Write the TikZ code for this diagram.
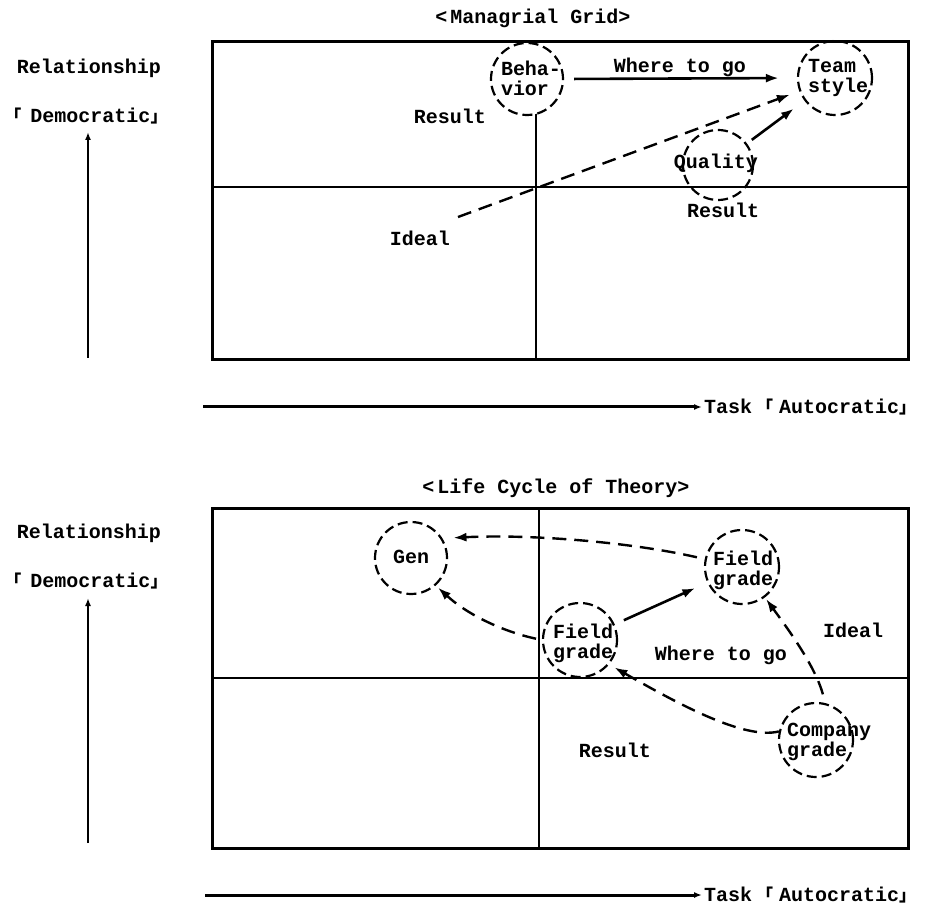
\documentclass[tikz,border=0pt]{standalone}
\usepackage{fontspec}
\setmainfont{Liberation Mono}
\newfontfamily\cjk{Noto Sans CJK SC}
\usetikzlibrary{arrows.meta}

% corner brackets come from the CJK face
\newcommand{\lbr}{{\cjk\fontsize{17}{17}\selectfont 「}}
\newcommand{\rbr}{{\cjk\fontsize{17}{17}\selectfont 」}}

\tikzset{
  lbl/.style={font=\bfseries\fontsize{20}{20}\selectfont, inner sep=0pt, align=left},
  frame/.style={line width=3pt},
  divider/.style={line width=2.6pt},
  dcirc/.style={draw, circle, line width=2.2pt, dash pattern=on 10pt off 5pt, inner sep=0pt, minimum size=72pt},
  arr/.style={line width=2.6pt, -{Latex[length=13pt,width=9pt]}},
  darr/.style={line width=2.4pt, dash pattern=on 14pt off 8pt, -{Latex[length=13pt,width=9pt]}},
  axis/.style={line width=2.4pt, -{Latex[length=8pt,width=6pt]}},
}

\begin{document}
\begin{tikzpicture}[x=1pt, y=-1pt]
\useasboundingbox (0,0) rectangle (935,909);

% ---------------- upper panel: managerial grid ----------------
\node[lbl] (title1) at (533,18) {<\hspace{3pt}Managrial Grid>};

\node[lbl] (rel1) at (89,68) {Relationship};
\node[lbl] (dem1) at (86,116) {\lbr\hspace{9pt}Democratic\rbr};
\coordinate (vb1) at (88,358);
\coordinate (vt1) at (88,132);
\draw[axis] (vb1) -- (vt1);

\draw[frame] (212,42) rectangle (908,360);
\draw[divider] (536,42) -- (536,360);
\draw[divider] (212,187) -- (908,187);

\coordinate (hl1) at (203,407);
\coordinate (hr1) at (702,407);
\draw[axis, line width=3pt] (hl1) -- (hr1);
\node[lbl, anchor=west] (task1) at (704,407) {Task\hspace{4pt}\lbr\hspace{6pt}Autocratic\rbr};

\node[dcirc, fill=white] (beh) at (527,79) {};
\node[lbl] (behT) at (531,78) {Beha-\\vior};
\node[dcirc, minimum size=74pt] (team) at (835,78) {};
\node[lbl] (teamT) at (838,78) {Team\\style};
\node[dcirc, minimum size=70pt] (qual) at (718,165) {};
\node[lbl] (qualT) at (716,163) {Quality};

\node[lbl] (where1) at (680,67) {Where to go};
\node[lbl] (res1a) at (450,116) {Result};
\node[lbl] (res1b) at (723,210) {Result};
\node[lbl] (ideal1) at (420,238) {Ideal};

\coordinate (idealStart) at (458,217);
\draw[arr, shorten <=10pt, shorten >=18pt] (beh.east) -- (team.west);
\draw[darr, shorten >=10pt] (idealStart) -- (team);
\draw[arr, shorten <=6pt, shorten >=13pt] (qual) -- (team);

% ---------------- lower panel: life cycle of theory ----------------
\node[lbl] (title2) at (556,488) {<\hspace{3pt}Life Cycle of Theory>};

\node[lbl] (rel2) at (89,533) {Relationship};
\node[lbl] (dem2) at (86,581) {\lbr\hspace{9pt}Democratic\rbr};
\coordinate (vb2) at (88,843);
\coordinate (vt2) at (88,598);
\draw[axis] (vb2) -- (vt2);

\draw[frame] (212,508) rectangle (908,848);
\draw[divider] (539,508) -- (539,848);
\draw[divider] (212,678) -- (908,678);

\coordinate (hl2) at (205,895);
\coordinate (hr2) at (702,895);
\draw[axis, line width=3pt] (hl2) -- (hr2);
\node[lbl, anchor=west] (task2) at (704,895) {Task\hspace{4pt}\lbr\hspace{6pt}Autocratic\rbr};

\node[dcirc] (gen) at (411,558) {};
\node[lbl] (genT) at (411,557) {Gen};
\node[dcirc, minimum size=74pt] (fu) at (742,567) {};
\node[lbl] (fuT) at (743,570) {Field\\grade};
\node[dcirc, minimum size=74pt] (fl) at (580,640) {};
\node[lbl] (flT) at (583,643) {Field\\grade};
\node[dcirc, minimum size=74pt] (co) at (816,740) {};
\node[lbl] (coT) at (829,742) {Company\\grade};

\node[lbl] (where2) at (721,655) {Where to go};
\node[lbl] (ideal2) at (853,630) {Ideal};
\node[lbl] (res2) at (615,750) {Result};

\draw[arr, shorten <=10pt, shorten >=13pt] (fl) -- (fu);
\draw[darr, shorten <=8pt, shorten >=11pt] (fu.168) .. controls (630,542) and (530,534) .. (gen.32);
\draw[darr, shorten <=6pt, shorten >=3pt] (fl.180) .. controls (505,632) and (469,616) .. (gen.-48);
\draw[darr, shorten <=9pt, shorten >=2pt] (co.76) .. controls (815,665) and (785,625) .. (fu.-53);
\draw[darr, shorten >=6pt] (co.167) .. controls (745,740) and (680,705) .. (fl.-40);
\end{tikzpicture}
\end{document}
